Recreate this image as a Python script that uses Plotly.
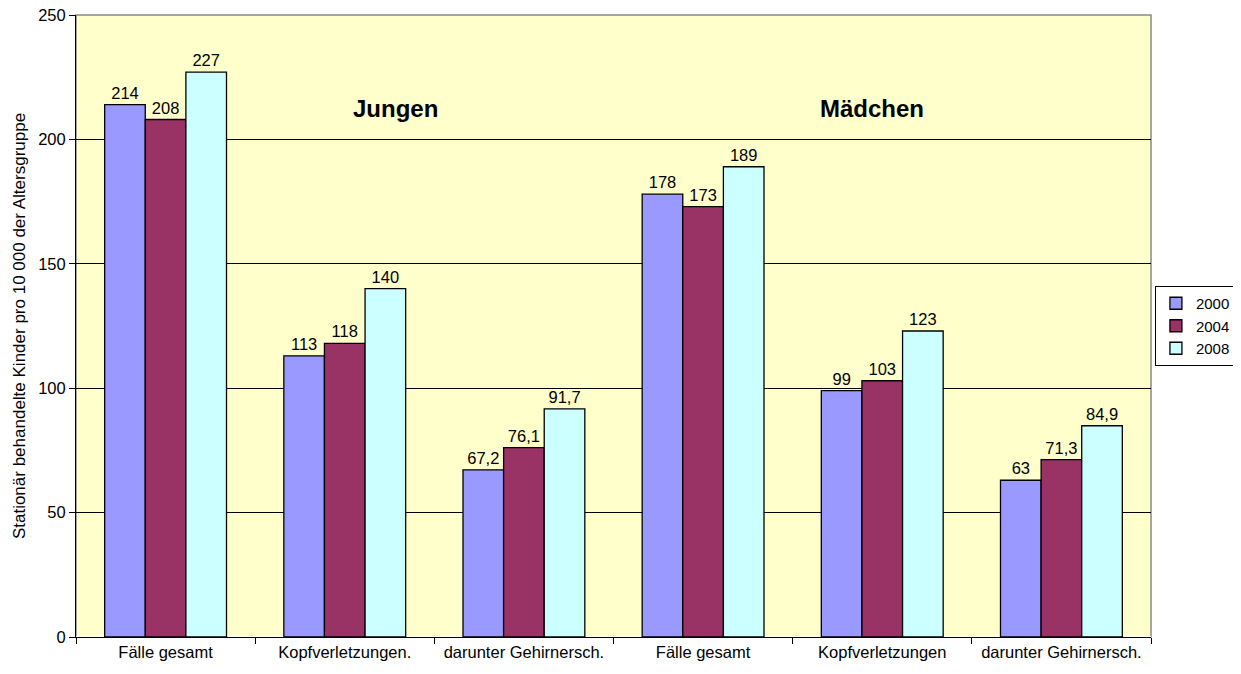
import plotly.graph_objects as go

categories = ["Fälle gesamt", "Kopfverletzungen.", "darunter Gehirnersch.",
              "Fälle gesamt\u200b", "Kopfverletzungen", "darunter Gehirnersch.\u200b"]
years = ["2000", "2004", "2008"]
v2000 = [214, 113, 67.2, 178, 99, 63]
v2004 = [208, 118, 76.1, 173, 103, 71.3]
v2008 = [227, 140, 91.7, 189, 123, 84.9]
colors = ["#9999FF", "#993366", "#CCFFFF"]

def fmt(v):
    return ("%g" % v).replace(".", ",")

FS = 16.5
fig = go.Figure()
for name, vals, c in zip(years, [v2000, v2004, v2008], colors):
    fig.add_trace(go.Bar(
        x=categories, y=vals, name=name,
        marker=dict(color=c, line=dict(color="black", width=1.3)),
        text=[fmt(v) for v in vals], textposition="outside",
        textfont=dict(family="Arial", size=FS, color="black"),
        cliponaxis=False,
    ))

fig.update_layout(
    width=1233, height=666,
    margin=dict(l=68, r=90, t=7, b=37, autoexpand=False),
    paper_bgcolor="white", plot_bgcolor="#FFFFCC",
    barmode="group", bargap=0.32, bargroupgap=0,
    font=dict(family="Arial", size=FS, color="black"),
    legend=dict(x=1.079, xanchor="right", y=0.5, yanchor="middle",
                bordercolor="black", borderwidth=1, font=dict(size=15),
                tracegroupgap=0, itemwidth=30),
    showlegend=True,
    annotations=[
        dict(text="<b>Jungen</b>", x=0.256, y=212.6, xref="paper", yref="y",
             showarrow=False, font=dict(size=24)),
        dict(text="<b>Mädchen</b>", x=0.791, y=212.6, xref="paper", yref="y",
             showarrow=False, font=dict(size=24)),
    ],
)
fig.update_xaxes(type="category", tickson="boundaries", ticks="outside", ticklen=6,
                 tickcolor="black", showline=True, linecolor="black", linewidth=1,
                 mirror=False, showgrid=False, tickfont=dict(size=FS), automargin=False)
fig.update_yaxes(range=[0, 250], tickvals=[0, 50, 100, 150, 200, 250],
                 ticks="outside", ticklen=6, tickcolor="black", ticklabeloverflow="allow",
                 showline=True, linecolor="black", linewidth=1,
                 gridcolor="black", gridwidth=0.6, automargin=False,
                 title=dict(text="Stationär behandelte Kinder pro 10 000 der Altersgruppe",
                            font=dict(size=17), standoff=8),
                 tickfont=dict(size=FS))
fig.add_shape(type="rect", xref="paper", yref="paper", x0=0, x1=1, y0=0, y1=1,
              line=dict(color="#888888", width=1.5), layer="below")

fig.write_html("out.html")
